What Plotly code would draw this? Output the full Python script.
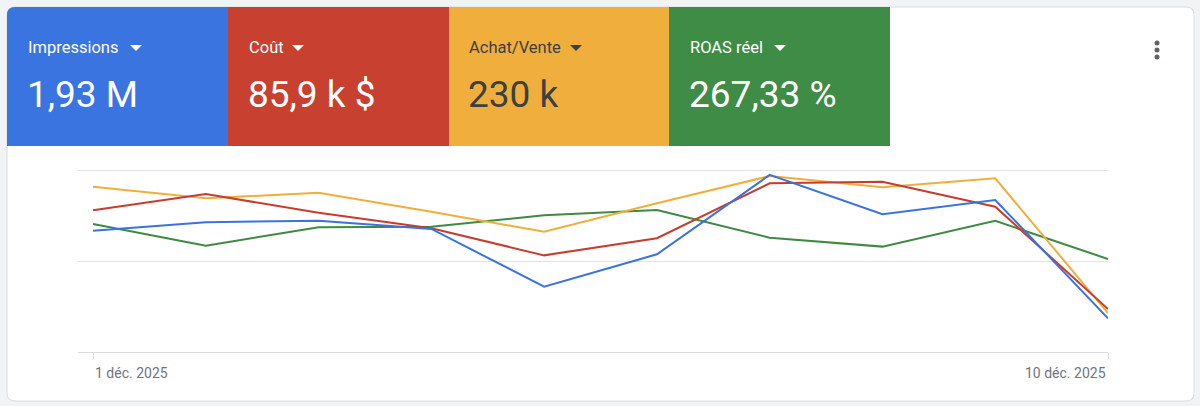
import plotly.graph_objects as go

W, H = 1200, 406

dates = ["2025-12-01", "2025-12-02", "2025-12-03", "2025-12-04", "2025-12-05",
         "2025-12-06", "2025-12-07", "2025-12-08", "2025-12-09", "2025-12-10"]

# normalised series (0 = x-axis, 100 = top gridline)
impressions = [66.6, 71.3, 72.1, 67.6, 35.9, 53.7, 97.3, 75.7, 83.5, 18.5]
cout = [77.9, 86.8, 76.5, 68.0, 53.1, 62.5, 92.7, 93.6, 79.8, 23.6]
achat_vente = [90.8, 84.5, 87.5, 77.1, 66.1, 81.7, 96.7, 90.5, 95.4, 21.3]
roas = [70.3, 58.4, 68.5, 68.8, 75.1, 78.0, 62.8, 57.9, 72.1, 51.1]

metric_names = ["Impressions", "Coût", "Achat/Vente", "ROAS réel"]
metric_values = ["1,93 M", "85,9 k $", "230 k", "267,33 %"]
tick_labels = ["1 déc. 2025", "10 déc. 2025"]

tile_colors = ["#3a74e0", "#c8402f", "#f0ae3c", "#3f8c47"]
line_colors = ["#3a72de", "#c63d2d", "#f0ae3a", "#3e8a42"]
text_colors = ["#ffffff", "#ffffff", "#3c4043", "#ffffff"]


def px(x):
    return x / W


def py(y):
    return 1 - y / H


fig = go.Figure()

series = [(roas, 3), (achat_vente, 2), (cout, 1), (impressions, 0)]
for vals, ci in series:
    fig.add_trace(go.Scatter(
        x=dates, y=vals, mode="lines",
        line=dict(color=line_colors[ci], width=2),
        name=metric_names[ci], hoverinfo="skip", showlegend=False,
    ))

shapes = []

# card
r = 8
x0, y0, x1, y1 = 7, 7, 1194, 401


def rrect(x0, y0, x1, y1, r, tl=True, tr=True, br=True, bl=True):
    def P(x, y):
        return f"{px(x)},{py(y)}"
    p = f"M {P(x0 + (r if tl else 0), y0)} "
    p += f"L {P(x1 - (r if tr else 0), y0)} "
    if tr:
        p += f"Q {P(x1, y0)} {P(x1, y0 + r)} "
    p += f"L {P(x1, y1 - (r if br else 0))} "
    if br:
        p += f"Q {P(x1, y1)} {P(x1 - r, y1)} "
    p += f"L {P(x0 + (r if bl else 0), y1)} "
    if bl:
        p += f"Q {P(x0, y1)} {P(x0, y1 - r)} "
    p += f"L {P(x0, y0 + (r if tl else 0))} "
    if tl:
        p += f"Q {P(x0, y0)} {P(x0 + r, y0)} "
    p += "Z"
    return p


shapes.append(dict(type="path", xref="paper", yref="paper", layer="below",
                   path=rrect(x0, y0, x1, y1, r),
                   fillcolor="#ffffff", line=dict(color="#dadce0", width=1)))

# tiles
tile_x = [7, 228, 449, 669, 890]
for i in range(4):
    shapes.append(dict(type="path", xref="paper", yref="paper", layer="below",
                       path=rrect(tile_x[i], 7, tile_x[i + 1], 146, r,
                                  tl=(i == 0), tr=False, br=False, bl=False),
                       fillcolor=tile_colors[i], line=dict(width=0)))

# dropdown arrows
arrow_x = [130, 292, 570, 774]
for i, ax in enumerate(arrow_x):
    shapes.append(dict(type="path", xref="paper", yref="paper",
                       path=f"M {px(ax)},{py(45)} L {px(ax + 12)},{py(45)} L {px(ax + 6)},{py(51)} Z",
                       fillcolor=text_colors[i], line=dict(width=0)))

# kebab menu
for cy in (43, 50, 57):
    shapes.append(dict(type="circle", xref="paper", yref="paper",
                       x0=px(1154.5), x1=px(1159.5), y0=py(cy - 2.5), y1=py(cy + 2.5),
                       fillcolor="#5f6368", line=dict(width=0)))

annotations = []
title_x = [27, 248, 468, 689]
for i in range(4):
    annotations.append(dict(xref="paper", yref="paper", x=px(title_x[i] - 1), y=py(48),
                            xanchor="left", yanchor="middle", showarrow=False,
                            text=metric_names[i],
                            font=dict(family="Roboto", size=16.5, color=text_colors[i])))
    annotations.append(dict(xref="paper", yref="paper", x=px(title_x[i] - 2), y=py(94),
                            xanchor="left", yanchor="middle", showarrow=False,
                            text=metric_values[i],
                            font=dict(family="Roboto", size=37, color=text_colors[i])))

annotations.append(dict(xref="x", yref="paper", x=dates[0], y=py(373),
                        xanchor="left", yanchor="middle", showarrow=False,
                        text=tick_labels[0],
                        font=dict(family="Roboto", size=14, color="#70757a")))
annotations.append(dict(xref="x", yref="paper", x=dates[-1], y=py(373),
                        xanchor="right", yanchor="middle", showarrow=False,
                        text=tick_labels[1],
                        font=dict(family="Roboto", size=14, color="#70757a")))

fig.update_layout(
    width=W, height=H,
    margin=dict(l=0, r=0, t=0, b=0),
    paper_bgcolor="#f1f3f4",
    plot_bgcolor="rgba(0,0,0,0)",
    shapes=shapes,
    annotations=annotations,
    showlegend=False,
    xaxis=dict(
        type="date",
        domain=[px(78), px(1108)],
        range=["2025-11-30 20:48", "2025-12-10 00:00"],
        tickvals=[dates[0], dates[-1]],
        showticklabels=False,
        ticks="outside", ticklen=6, tickcolor="#dadce0",
        showgrid=False, showline=True, linecolor="#dadce0", linewidth=1,
        zeroline=False, fixedrange=True,
    ),
    yaxis=dict(
        domain=[py(352), py(151.8)],
        range=[0, 110],
        tickvals=[0, 50, 100],
        showticklabels=False,
        showgrid=True, gridcolor="#e3e3e3", gridwidth=1,
        zeroline=False, showline=False, fixedrange=True,
    ),
)

fig.write_html(
    "out.html",
    config={"displayModeBar": False},
    post_script="document.body.style.margin='0';document.body.style.overflow='hidden';document.body.style.background='#f1f3f4';",
)
